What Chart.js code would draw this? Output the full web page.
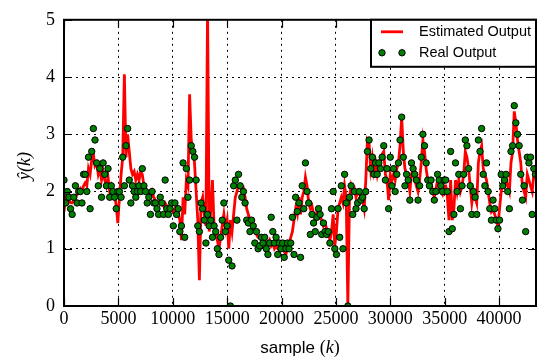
<!DOCTYPE html>
<html>
<head>
<meta charset="utf-8">
<script src="https://cdn.jsdelivr.net/npm/chart.js@4.4.1/dist/chart.umd.min.js"></script>
<style>
  html, body { margin: 0; padding: 0; background: #fff; }
  #wrap { width: 541px; height: 364px; }
</style>
</head>
<body>
<div id="wrap"><canvas id="outputChart" width="541" height="364"></canvas></div>
<script>
// one value every 150 samples
const sampleStep = 150;

const realOutput = [
  2.2,1.8,2.0,1.9,1.7,1.6,1.9,2.1,1.8,2.0, 2.0,1.8,2.3,2.3,2.0,2.6,1.7,2.7,3.1,2.9,
  2.5,2.1,2.4,1.9,2.5,2.3,2.1,2.4,1.9,2.1, 2.0,1.9,1.7,2.0,
  2.0,1.9,2.6,2.1,2.8,3.1,2.2,1.8,2.1,2.0, 1.9,2.0,2.1,2.0,2.4,2.1,2.0,1.8,1.9,1.6,
  2.0,1.8,1.8,1.7,1.6,1.9,1.8,1.6,2.2,1.7, 1.6,1.7,1.8,
  1.4,1.8,1.6,1.7,1.3,1.4,2.5,1.2,2.4,1.9, 2.2,2.8,2.7,2.6,2.2,1.4,1.3,1.8,1.7,1.5,
  1.1,1.6,1.4,1.5,1.2,1.4,1.3,1.0,0.9,1.2, 1.5,1.8,1.3,1.4,
  0.8,0.0,0.7,2.1,2.2,1.5,2.3,2.1,1.9,2.0, 1.8,1.5,1.45,1.3,1.5,1.4,1.1,1.3,1.0,1.05,
  1.2,1.1,1.2,1.0,0.9,1.1,1.55,1.3,1.1,1.2, 0.9,1.1,1.0,
  1.1,0.85,1.0,1.1,1.0,1.1,1.55,0.9,1.9,1.65, 1.8,0.85,2.1,1.7,2.5,2.0,1.8,1.25,1.6,1.45,
  1.3,1.55,1.7,1.6,1.25,1.45,1.3,1.25,1.3,1.1, 1.7,2.0,1.0,
  0.9,1.7,1.2,2.1,1.0,2.3,1.8,0.0,1.9,2.1, 1.6,2.0,1.7,1.8,2.0,1.85,1.9,1.7,2.0,2.7,
  2.9,2.4,2.6,2.3,2.5,2.3,2.5,2.4,2.6,2.8, 2.2,2.4,1.7,2.6,
  2.1,2.4,2.0,2.3,2.5,2.9,3.3,2.6,2.1,2.3, 2.2,1.85,2.5,2.4,2.3,2.2,1.85,2.1,2.6,3.0,
  2.8,2.5,2.2,2.1,2.2,2.0,1.85,2.0,2.3,2.2, 2.1,2.0,2.2,
  2.2,2.0,1.3,2.7,1.35,1.6,2.5,2.0,2.3,1.7, 2.1,2.3,2.9,2.8,2.4,2.1,1.6,2.0,1.9,1.6,
  2.9,2.7,3.1,2.3,2.1,2.5,2.0,1.7,1.5,1.85, 1.7,1.5,1.35,
  1.5,2.3,2.1,2.2,2.3,2.0,1.7,2.7,2.8,3.5, 3.2,3.0,2.8,2.3,1.85,2.1,1.3,2.6,2.5,2.6,
  1.6,2.4,2.3
];

const estimatedOutput = [
  1.65,1.9,1.95,1.85,1.8,1.8,1.85,1.9,1.95,2.0, 2.05,2.0,2.1,2.15,2.1,2.4,2.3,2.55,2.65,2.45,
  2.5,2.3,2.4,2.2,2.35,2.2,2.1,2.25,2.0,2.1, 2.0,1.95,1.75,1.45,
  1.9,2.3,2.6,4.05,2.6,3.0,2.7,2.4,2.3,2.35, 2.2,2.3,2.2,2.35,2.3,2.1,2.05,2.0,1.95,1.9,
  2.0,1.9,1.85,1.8,1.8,1.85,1.8,1.75,1.8,1.75, 1.7,1.75,1.7,
  1.65,1.7,1.6,1.65,1.5,1.15,1.9,1.6,2.2,2.1, 3.7,2.9,2.7,2.5,2.0,1.5,0.45,1.8,1.9,1.6,
  1.4,5.2,1.3,1.7,2.2,1.4,1.3,1.15,1.0,1.2, 1.4,1.6,1.35,1.5,
  1.0,1.5,1.3,1.6,1.9,2.0,2.1,2.1,2.0,2.05, 1.9,1.7,1.6,1.5,1.45,1.35,1.3,1.25,1.2,1.2,
  1.15,1.2,1.15,1.1,1.1,1.15,1.05,1.1,1.0,1.05, 1.0,1.0,1.0,
  1.0,0.95,0.9,1.0,1.1,1.2,1.3,1.5,1.7,1.6, 1.9,1.6,1.9,2.0,2.25,2.1,1.8,1.7,1.75,1.6,
  1.5,1.65,1.7,1.55,1.5,1.4,1.45,1.35,1.3,1.15, 1.3,1.6,1.05,
  1.3,1.7,1.8,1.9,1.8,2.1,1.9,0.0,1.9,2.1, 2.0,2.05,1.9,2.0,1.95,1.9,1.85,1.7,2.2,2.9,
  2.85,2.4,2.6,2.35,2.5,2.3,2.45,2.5,2.65,2.7, 2.3,2.2,1.85,2.3,
  2.2,2.3,2.2,2.4,2.5,2.8,3.3,2.7,2.4,2.3, 2.2,2.0,2.3,2.4,2.2,2.1,2.0,2.2,2.5,2.9,
  2.7,2.4,2.2,2.1,2.15,2.0,1.9,2.05,2.2,2.1, 2.0,1.95,2.1,
  2.1,1.9,1.5,2.2,1.5,1.7,2.2,2.0,2.2,2.0, 2.1,2.3,2.7,2.6,2.4,2.1,1.8,2.0,1.9,1.8,
  2.5,2.7,2.8,2.4,2.3,2.2,2.0,1.8,1.65,1.7, 1.6,1.5,1.4,
  1.7,2.0,2.2,2.1,2.2,2.1,2.0,2.5,2.7,3.4, 3.2,2.9,2.7,2.5,2.1,2.0,1.9,2.3,2.2,2.1,
  2.0,2.3,2.2
];

const xTicks = [0, 5000, 10000, 15000, 20000, 25000, 30000, 35000, 40000];
const yTicks = [0, 1, 2, 3, 4, 5];
const xMax = 43400;

const samples = realOutput.map((v, i) => i * sampleStep);
const toPoints = vals => vals.map((v, i) => ({ x: samples[i], y: v }));

const serif = '"Liberation Serif", "DejaVu Serif", serif';
const sans = '"Liberation Sans", Arial, sans-serif';

// frame, inward ticks, axis titles and the boxed legend
const decorations = {
  id: 'decorations',
  afterDraw(chart) {
    const ctx = chart.ctx;
    const a = chart.chartArea;
    const xs = chart.scales.x, ys = chart.scales.y;
    ctx.save();
    ctx.strokeStyle = '#000';
    ctx.lineWidth = 1.2;
    ctx.beginPath();
    xs.ticks.forEach(t => {
      const px = Math.round(xs.getPixelForValue(t.value)) + 0.5;
      ctx.moveTo(px, a.bottom); ctx.lineTo(px, a.bottom - 8);
      ctx.moveTo(px, a.top); ctx.lineTo(px, a.top + 8);
    });
    ys.ticks.forEach(t => {
      const py = Math.round(ys.getPixelForValue(t.value)) + 0.5;
      ctx.moveTo(a.left, py); ctx.lineTo(a.left + 8, py);
      ctx.moveTo(a.right, py); ctx.lineTo(a.right - 8, py);
    });
    ctx.stroke();

    ctx.lineWidth = 2;
    ctx.strokeRect(a.left, a.top, a.right - a.left, a.bottom - a.top);

    // legend box
    const bx = a.right - 165, by = a.top, bw = 165, bh = 47;
    ctx.fillStyle = '#fff';
    ctx.fillRect(bx, by, bw, bh);
    ctx.strokeRect(bx, by, bw, bh);
    ctx.strokeStyle = '#ff0000';
    ctx.lineWidth = 2.8;
    ctx.beginPath();
    ctx.moveTo(bx + 10, by + 12); ctx.lineTo(bx + 32, by + 12);
    ctx.stroke();
    ctx.fillStyle = '#008000';
    ctx.strokeStyle = '#000';
    ctx.lineWidth = 1;
    [bx + 11, bx + 31].forEach(cx => {
      ctx.beginPath();
      ctx.arc(cx, by + 33, 3.2, 0, Math.PI * 2);
      ctx.fill(); ctx.stroke();
    });
    ctx.fillStyle = '#000';
    ctx.font = '14.5px ' + sans;
    ctx.textBaseline = 'middle';
    ctx.textAlign = 'left';
    ctx.fillText('Estimated Output', bx + 48, by + 12);
    ctx.fillText('Real Output', bx + 48, by + 33);

    // x title: sample (k)
    const parts = [
      ['sample ', '17px ' + sans],
      ['(', '18px ' + serif],
      ['k', 'italic 18px ' + serif],
      [')', '18px ' + serif]
    ];
    let total = 0;
    parts.forEach(p => { ctx.font = p[1]; total += ctx.measureText(p[0]).width; });
    let tx = (a.left + a.right) / 2 - total / 2;
    ctx.textBaseline = 'alphabetic';
    parts.forEach(p => {
      ctx.font = p[1];
      ctx.fillText(p[0], tx, 353);
      tx += ctx.measureText(p[0]).width;
    });

    // y title
    ctx.translate(30, (a.top + a.bottom) / 2 + 3);
    ctx.rotate(-Math.PI / 2);
    ctx.textAlign = 'center';
    ctx.font = 'italic 18px ' + serif;
    ctx.fillText('\u0177(k)', 0, 0);
    ctx.restore();
  }
};

new Chart(document.getElementById('outputChart'), {
  type: 'scatter',
  data: {
    datasets: [
      {
        type: 'line',
        label: 'Estimated Output',
        data: toPoints(estimatedOutput),
        borderColor: '#ff0000',
        borderWidth: 2.8,
        pointRadius: 0,
        fill: false,
        tension: 0,
        order: 2
      },
      {
        label: 'Real Output',
        data: toPoints(realOutput),
        backgroundColor: '#008000',
        borderColor: '#000',
        borderWidth: 1,
        pointRadius: 3.2,
        order: 1
      }
    ]
  },
  options: {
    responsive: false,
    animation: false,
    layout: { padding: { top: 9, right: 3, left: 0, bottom: 0 } },
    plugins: { legend: { display: false }, tooltip: { enabled: false } },
    scales: {
      x: {
        type: 'linear',
        min: 0,
        max: xMax,
        afterBuildTicks: s => { s.ticks = xTicks.map(v => ({ value: v })); },
        afterFit: s => { s.height = 58; },
        ticks: {
          color: '#000',
          font: { family: serif, size: 18 },
          padding: 2,
          maxRotation: 0,
          autoSkip: false,
          callback: v => String(v)
        },
        grid: { color: '#000', lineWidth: 1, drawTicks: false },
        border: { display: false, dash: [2, 4] }
      },
      y: {
        min: 0,
        max: 5,
        afterBuildTicks: s => { s.ticks = yTicks.map(v => ({ value: v })); },
        afterFit: s => { s.width = 64; },
        ticks: {
          color: '#000',
          font: { family: serif, size: 18 },
          padding: 9,
          callback: v => String(v)
        },
        grid: { color: '#000', lineWidth: 1, drawTicks: false },
        border: { display: false, dash: [2, 4] }
      }
    }
  },
  plugins: [decorations]
});
</script>
</body>
</html>
